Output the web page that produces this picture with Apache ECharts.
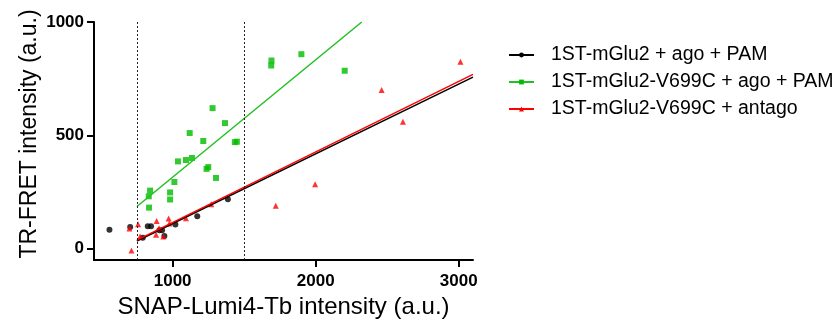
<!DOCTYPE html>
<html>
<head>
<meta charset="utf-8">
<script src="https://cdn.jsdelivr.net/npm/echarts@6/dist/echarts.min.js"></script>
<style>
  html, body { margin: 0; padding: 0; background: #fff; }
  #chart { width: 835px; height: 329px; }
</style>
</head>
<body>
<div id="chart"></div>
<script>
// series names
const names = ['1ST-mGlu2 + ago + PAM', '1ST-mGlu2-V699C + ago + PAM', '1ST-mGlu2-V699C + antago'];

// 1ST-mGlu2 + ago + PAM (black circles)
const blackX = [558, 703, 791, 826, 849, 907, 926, 942, 1019, 1172, 1386];
const blackY = [83, 96, 48, 99, 99, 81, 81, 56, 107, 143, 218];

// 1ST-mGlu2-V699C + ago + PAM (green squares)
const greenX = [835, 833, 842, 982, 982, 1012, 1037, 1093, 1135, 1119, 1214, 1237, 1249, 1303, 1279, 1366, 1435, 1449, 1689, 1691, 1900, 2203];
const greenY = [181, 231, 256, 217, 248, 294, 385, 391, 400, 510, 475, 352, 360, 312, 620, 554, 470, 472, 808, 830, 858, 785];

// 1ST-mGlu2-V699C + antago (red triangles)
const redX = [712, 698, 758, 772, 884, 888, 905, 935, 972, 977, 1093, 1270, 1721, 1996, 2461, 2610, 3012];
const redY = [-8, 89, 108, 54, 61, 122, 90, 54, 133, 111, 134, 196, 189, 284, 700, 560, 825];

// linear fits, start / end points
const blackFitX = [750, 3100];
const blackFitY = [34, 757];
const greenFitX = [750, 2322];
const greenFitY = [186, 1000];
const redFitX = [750, 3100];
const redFitY = [38, 769];

// dotted gates
const gates = [750, 1500];

// ticks
const xTicks = [1000, 2000, 3000];
const yTicks = [0, 500, 1000];

const zip = (xs, ys) => xs.map((x, i) => [x, ys[i]]);

const chart = echarts.init(document.getElementById('chart'));

const font = 'Liberation Sans, Arial, Helvetica, sans-serif';

const option = {
  animation: false,
  textStyle: { fontFamily: font },
  grid: { left: 94, top: 22, right: 362, bottom: 69, containLabel: false },
  legend: {
    left: 503,
    top: 40,
    orient: 'vertical',
    itemWidth: 25,
    itemHeight: 6,
    itemGap: 7,
    textStyle: { fontSize: 19.5, color: '#000', fontFamily: font, padding: [0, 0, 0, 12] },
    data: names
  },
  xAxis: {
    type: 'value',
    min: 450,
    max: 3100,
    splitLine: { show: false },
    name: 'SNAP-Lumi4-Tb intensity (a.u.)',
    nameLocation: 'middle',
    nameGap: 33,
    nameTextStyle: { fontSize: 24, color: '#000' },
    axisLine: { onZero: false, lineStyle: { color: '#000', width: 2 } },
    axisTick: { customValues: xTicks, length: 7, lineStyle: { width: 2, color: '#000' } },
    axisLabel: { customValues: xTicks, formatter: v => String(v), fontSize: 17, fontWeight: 'bold', color: '#000', margin: 13 }
  },
  yAxis: {
    type: 'value',
    min: -50,
    max: 1000,
    splitLine: { show: false },
    name: 'TR-FRET intensity (a.u.)',
    nameLocation: 'middle',
    nameGap: 53,
    nameTextStyle: { fontSize: 23, color: '#000', padding: [0, 0, 0, 14] },
    axisLine: { show: true, onZero: false, lineStyle: { color: '#000', width: 2 } },
    axisTick: { show: true, customValues: yTicks, length: 7, lineStyle: { width: 2, color: '#000' } },
    axisLabel: { customValues: yTicks, formatter: v => String(v), fontSize: 17, fontWeight: 'bold', color: '#000', margin: 10 }
  },
  series: [
    {
      name: names[0], type: 'line', data: zip(blackFitX, blackFitY),
      symbol: 'circle', symbolSize: 5, showSymbol: false,
      itemStyle: { color: '#000' }, lineStyle: { color: '#000', width: 1.5 }, z: 3,
      markLine: {
        silent: true, symbol: 'none', label: { show: false },
        lineStyle: { type: [2, 2], color: '#222', width: 1 },
        data: gates.map(g => ({ xAxis: g }))
      }
    },
    {
      name: names[1], type: 'line', data: zip(greenFitX, greenFitY),
      symbol: 'rect', symbolSize: 5, showSymbol: false,
      itemStyle: { color: '#00bb00' }, lineStyle: { color: '#22c022', width: 1.5 }, z: 3
    },
    {
      name: names[2], type: 'line', data: zip(redFitX, redFitY),
      symbol: 'triangle', symbolSize: 5, showSymbol: false,
      itemStyle: { color: '#ff0000' }, lineStyle: { color: '#ff0000', width: 1.5 }, z: 3
    },
    {
      name: names[0], type: 'scatter', data: zip(blackX, blackY),
      symbol: 'circle', symbolSize: 6, itemStyle: { color: '#000' }, z: 2
    },
    {
      name: names[1], type: 'scatter', data: zip(greenX, greenY),
      symbol: 'rect', symbolSize: 6, itemStyle: { color: '#00bb00' }, z: 2
    },
    {
      name: names[2], type: 'scatter', data: zip(redX, redY),
      symbol: 'triangle', symbolSize: 6, itemStyle: { color: '#ff0000' }, z: 2
    }
  ]
};

chart.setOption(option);
</script>
</body>
</html>
